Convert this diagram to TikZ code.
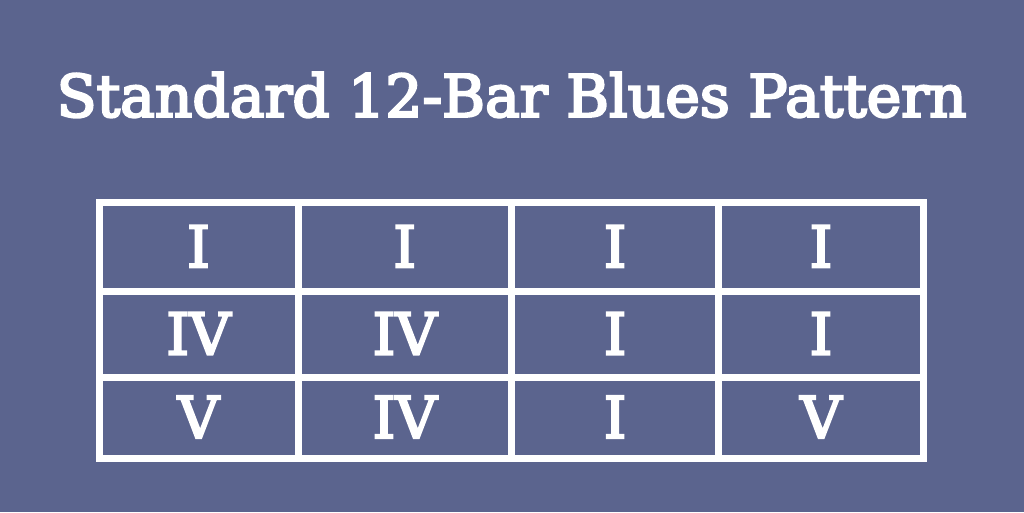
\documentclass[tikz,border=0pt]{standalone}
\usepackage{fontspec}
\setmainfont{DejaVu Serif}
\newfontfamily\titleserif[FakeBold=4]{DejaVu Serif}
\newfontfamily\numserif[FakeBold=3.8]{DejaVu Serif}
\definecolor{bgblue}{RGB}{91,100,142}
\tikzset{
  gridline/.style={draw=white, line width=7pt},
  titletext/.style={text=white, font=\titleserif\fontsize{57.5}{60}\selectfont, inner sep=0pt, anchor=base},
  cellnum/.style={text=white, font=\numserif\fontsize{57.5}{60}\selectfont, inner sep=0pt}
}
\begin{document}
\begin{tikzpicture}[x=1pt,y=-1pt]
\fill[bgblue] (0,0) rectangle (1024,512);
\useasboundingbox (0,0) rectangle (1024,512);
\node[titletext] (title) at (511.7,116.7) {\resizebox{910pt}{!}{Standard 12-Bar Blues Pattern}};
% grid
\coordinate (tl) at (99,202.7);
\coordinate (br) at (923.3,458);
\draw[gridline] (tl) rectangle (br);
\foreach \x [count=\i] in {298,511.5,718.7} {
  \coordinate (ct\i) at (\x,202.7);
  \coordinate (cb\i) at (\x,458);
  \draw[gridline] (ct\i) -- (cb\i);
}
\foreach \y [count=\i] in {291,377} {
  \coordinate (rl\i) at (99,\y);
  \coordinate (rr\i) at (923.3,\y);
  \draw[gridline] (rl\i) -- (rr\i);
}
% cells
\foreach \lab [count=\k from 0] in {I,I,I,I,IV,IV,I,I,V,IV,I,V} {
  \pgfmathtruncatemacro{\r}{div(\k,4)}
  \pgfmathtruncatemacro{\c}{mod(\k,4)}
  \pgfmathsetmacro{\xx}{{198.5,404.75,615.1,821}[\c]}
  \pgfmathsetmacro{\yy}{{267.3,354.5,438}[\r]}
  \node[cellnum, anchor=base] (cell\r\c) at (\xx,\yy) {\lab};
}
\end{tikzpicture}
\end{document}
